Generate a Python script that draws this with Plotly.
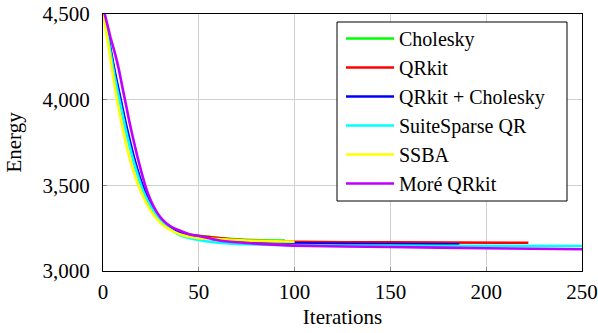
import plotly.graph_objects as go

# ---- data ----
chol_x = [0, 2, 4, 6, 8, 10, 12, 14, 16, 18, 20, 22, 25, 28, 31, 35, 40, 45, 50, 60, 70, 80, 95]
chol_y = [4520, 4400, 4275, 4150, 4040, 3935, 3830, 3735, 3650, 3572, 3505, 3448, 3382, 3330, 3292, 3256, 3228, 3213, 3206, 3194, 3185, 3180, 3177]

qrkit_x = [0, 2, 4, 6, 8, 10, 12, 14, 16, 18, 20, 22, 25, 28, 31, 35, 40, 45, 50, 60, 70, 80, 100, 150, 222]
qrkit_y = [4525, 4405, 4280, 4160, 4050, 3945, 3840, 3745, 3660, 3580, 3512, 3455, 3388, 3335, 3295, 3258, 3228, 3212, 3204, 3192, 3182, 3176, 3170, 3167, 3165]

qrchol_x = [0, 2, 4, 6, 8, 10, 12, 14, 16, 18, 20, 22, 25, 28, 31, 35, 40, 45, 50, 60, 70, 80, 100, 150, 186]
qrchol_y = [4525, 4410, 4290, 4170, 4065, 3960, 3855, 3760, 3670, 3590, 3520, 3460, 3390, 3335, 3295, 3255, 3222, 3205, 3196, 3182, 3172, 3166, 3161, 3158, 3156]

ssqr_x = [0, 2, 4, 6, 8, 10, 12, 14, 16, 18, 20, 22, 25, 28, 31, 35, 40, 45, 50, 60, 70, 80, 100, 150, 200, 250]
ssqr_y = [4520, 4400, 4270, 4140, 4030, 3925, 3820, 3725, 3640, 3565, 3497, 3440, 3375, 3325, 3285, 3245, 3210, 3192, 3181, 3165, 3158, 3155, 3151, 3148, 3147, 3146]

ssba_x = [0, 2, 4, 6, 8, 10, 12, 14, 16, 18, 20, 22, 25, 28, 31, 35, 40, 45, 50, 60, 70, 80, 90, 100]
ssba_y = [4510, 4370, 4230, 4085, 3960, 3845, 3745, 3655, 3580, 3515, 3460, 3410, 3350, 3305, 3270, 3240, 3215, 3200, 3192, 3186, 3180, 3176, 3173, 3171]

more_x = [0, 2, 4, 6, 8, 10, 12, 14, 16, 18, 20, 22, 25, 28, 31, 35, 40, 45, 50, 60, 70, 80, 100, 150, 200, 250]
more_y = [4540, 4450, 4360, 4280, 4190, 4080, 3970, 3860, 3760, 3665, 3580, 3500, 3410, 3345, 3300, 3262, 3236, 3215, 3204, 3180, 3168, 3160, 3148, 3140, 3133, 3127]

series = [
    ("Cholesky", chol_x, chol_y, "#00ff00"),
    ("QRkit", qrkit_x, qrkit_y, "#ff0000"),
    ("QRkit + Cholesky", qrchol_x, qrchol_y, "#0000ff"),
    ("SuiteSparse QR", ssqr_x, ssqr_y, "#00ffff"),
    ("SSBA", ssba_x, ssba_y, "#ffff00"),
    ("Moré QRkit", more_x, more_y, "#bf00ff"),
]

x_ticks = [0, 50, 100, 150, 200, 250]
y_ticks = [3000, 3500, 4000, 4500]

font_family = "Liberation Serif"
fs = 21

fig = go.Figure()
for i, (name, xs, ys, col) in enumerate(series):
    fig.add_trace(go.Scatter(
        x=xs, y=ys, mode="lines", name=name,
        line=dict(color=col, width=2.6, shape="spline", smoothing=0.6),
        legendgroup=f"g{i}",
    ))

axis_common = dict(
    showline=True, linecolor="black", linewidth=1, mirror=True,
    showgrid=True, gridcolor="#d0d0d0", gridwidth=1,
    ticks="inside", ticklen=4, tickcolor="#888888",
    zeroline=False, automargin=False,
    tickfont=dict(family=font_family, size=fs, color="black"),
)

fig.update_xaxes(range=[0, 250], tickvals=x_ticks, ticklabelstandoff=2,
                 title=dict(text="Iterations", font=dict(family=font_family, size=fs, color="black"), standoff=6),
                 **axis_common)
fig.update_yaxes(range=[3000, 4500], tickvals=y_ticks, tickformat=",", ticklabelstandoff=8,
                 title=dict(text="Energy", font=dict(family=font_family, size=fs, color="black"), standoff=15),
                 **axis_common)

# legend frame (pixel geometry of the reference's legend box, in paper coords)
plot_l, plot_w, plot_b, plot_h = 103, 479, 271, 257
box = dict(x0=(337 - plot_l) / plot_w, x1=(567 - plot_l) / plot_w,
           y0=(plot_b - 201) / plot_h, y1=(plot_b - 22) / plot_h)
fig.add_shape(type="rect", xref="paper", yref="paper", layer="above",
              line=dict(color="black", width=1), fillcolor="white", **box)

fig.update_layout(
    width=598, height=333,
    margin=dict(l=103, r=16, t=14, b=62),
    plot_bgcolor="white", paper_bgcolor="white",
    font=dict(family=font_family, size=fs, color="black"),
    legend=dict(
        x=(341 - plot_l) / plot_w, y=(plot_b - 19) / plot_h, xanchor="left", yanchor="top",
        bgcolor="rgba(0,0,0,0)", borderwidth=0,
        font=dict(family=font_family, size=20, color="black"),
        tracegroupgap=0, traceorder="grouped", itemwidth=48,
    ),
    showlegend=True,
)

fig.write_html("out.html")
